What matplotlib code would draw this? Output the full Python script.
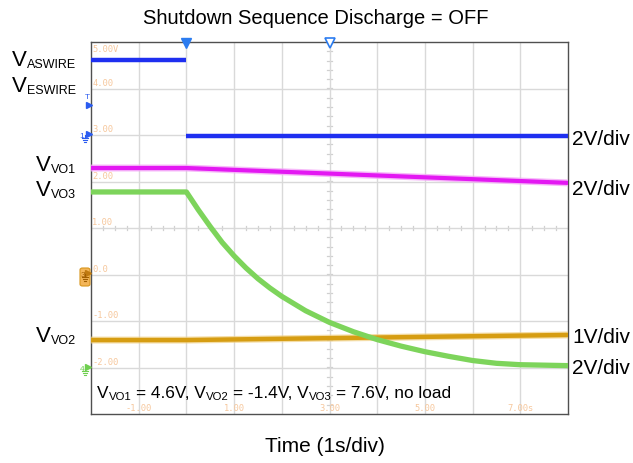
import matplotlib
matplotlib.use('Agg')
import matplotlib.pyplot as plt
from matplotlib.lines import Line2D
from matplotlib.patches import FancyBboxPatch
import numpy as np

plt.rcParams['font.family'] = ['Liberation Sans', 'DejaVu Sans']

# ---- data (time in s, vertical position in screen divisions as labelled on the grid) ----
t_aswire_high = [-2.0, 0.0]
v_aswire_high = [4.61, 4.61]
t_aswire_low = [0.0, 8.0]
v_aswire_low = [2.97, 2.97]

t_vo1 = [-2.0, 0.0, 8.0]
v_vo1 = [2.29, 2.29, 1.97]

t_vo2 = [-2.0, 0.0, 8.0]
v_vo2 = [-1.41, -1.41, -1.30]

t_vo3 = [-2.0, 0.0, 0.25, 0.5, 0.75, 1.0, 1.25, 1.5, 1.75, 2.0, 2.5, 3.0, 3.5, 4.0, 4.5,
         5.0, 5.5, 6.0, 6.5, 7.0, 7.5, 8.0]
v_vo3 = [1.775, 1.775, 1.39, 1.03, 0.69, 0.40, 0.14, -0.09, -0.29, -0.47, -0.78, -1.03,
         -1.23, -1.40, -1.54, -1.66, -1.76, -1.85, -1.91, -1.94, -1.95, -1.96]

y_grid_labels = ["5.00V", "4.00", "3.00", "2.00", "1.00", "0.0", "-1.00", "-2.00"]
y_grid_values = [5, 4, 3, 2, 1, 0, -1, -2]
x_grid_labels = ["-1.00", "1.00", "3.00", "5.00", "7.00s"]
x_grid_values = [-1, 1, 3, 5, 7]

W, H = 633, 464
fig = plt.figure(figsize=(W / 100, H / 100), dpi=100)
ax = fig.add_axes([91 / W, 1 - 415 / H, 477 / W, 372 / H])
ax.set_xlim(-2, 8)
ax.set_ylim(-3, 5)
ax.set_xticks(range(-1, 8))
ax.set_yticks(range(-2, 5))
ax.grid(color='#d9d9d9', lw=1.0)
ax.tick_params(length=0, labelbottom=False, labelleft=False)
for s in ax.spines.values():
    s.set_color('#505050')
    s.set_linewidth(1.0)

# centre crosshair minor ticks
for x in np.arange(-2, 8.001, 0.25):
    ax.plot([x, x], [1 - 0.045, 1 + 0.045], color='#d0d0d0', lw=0.9, zorder=1)
for y in np.arange(-3, 5.001, 0.2):
    ax.plot([3 - 0.045, 3 + 0.045], [y, y], color='#d0d0d0', lw=0.9, zorder=1)

# grid labels (scope readouts)
lab_col = '#f6c79c'
for lbl, yv in zip(y_grid_labels, y_grid_values):
    if yv == 5:
        ax.text(-1.97, yv - 0.04, lbl, color=lab_col, fontsize=6.3, family='DejaVu Sans Mono',
                ha='left', va='top')
    else:
        ax.text(-1.97, yv + 0.04, lbl, color=lab_col, fontsize=6.3, family='DejaVu Sans Mono',
                ha='left', va='bottom')
for lbl, xv in zip(x_grid_labels, x_grid_values):
    ax.text(xv, -2.96, lbl, color=lab_col, fontsize=6.3, family='DejaVu Sans Mono',
            ha='center', va='bottom')

# traces
ax.plot(t_vo2, v_vo2, color='#f0cf80', lw=5.0, solid_capstyle='butt', zorder=3, alpha=0.7)
ax.plot(t_vo2, v_vo2, color='#d69d12', lw=3.2, solid_capstyle='butt', zorder=3)
ax.plot(t_vo3, v_vo3, color='#7dd45b', lw=3.8, solid_capstyle='butt', zorder=4)
ax.plot(t_vo1, v_vo1, color='#f4a6f8', lw=5.0, solid_capstyle='butt', zorder=4, alpha=0.8)
ax.plot(t_vo1, v_vo1, color='#e318f2', lw=3.0, solid_capstyle='butt', zorder=4)
ax.plot(t_aswire_high, v_aswire_high, color='#1e2ff0', lw=3.2, solid_capstyle='butt', zorder=5)
ax.plot(t_aswire_low, v_aswire_low, color='#1e2ff0', lw=3.2, solid_capstyle='butt', zorder=5)

# top markers (trigger position and centre)
ax.plot([0], [4.97], marker='v', ms=7, color='#2b7cf0', clip_on=False, zorder=6)
ax.plot([3], [4.97], marker='v', ms=7, mfc='white', mec='#2b7cf0', mew=1.2, clip_on=False, zorder=6)


def fx(px):
    return px / W


def fy(py):
    return 1 - py / H


def fig_line(xs, ys, **kw):
    fig.add_artist(Line2D([fx(v) for v in xs], [fy(v) for v in ys], transform=fig.transFigure, **kw))


def ground(xc, ytop, color):
    fig_line([xc, xc], [ytop, ytop + 3], color=color, lw=0.8)
    fig_line([xc - 3, xc + 3], [ytop + 3, ytop + 3], color=color, lw=0.8)
    fig_line([xc - 2, xc + 2], [ytop + 5, ytop + 5], color=color, lw=0.8)
    fig_line([xc - 1, xc + 1], [ytop + 7, ytop + 7], color=color, lw=0.8)


def arrow(xc, yc, color):
    fig_line([xc], [yc], marker='>', ms=4, color=color, ls='none')


# left-edge channel markers
blue_m = '#2b5cf0'
fig.text(fx(87), fy(99), 'T', color=blue_m, fontsize=6, ha='center', va='baseline')
arrow(89, 106, blue_m)
fig.text(fx(82), fy(138), '1', color=blue_m, fontsize=6, ha='center', va='baseline')
arrow(89, 135, blue_m)
ground(85, 136, blue_m)

fig.add_artist(FancyBboxPatch((fx(80), fy(287)), 10 / W, 18 / H,
                              boxstyle='round,pad=0.0,rounding_size=0.004', transform=fig.transFigure,
                              fc='#f3b559', ec='#d8951c', lw=0.8))
fig.text(fx(83), fy(277), '3', color='#a05e00', fontsize=6, ha='center', va='baseline')
arrow(88, 274, '#c07a10')
ground(85, 275, '#a05e00')

green_m = '#6fcf4f'
fig.text(fx(82), fy(371), '4', color=green_m, fontsize=6, ha='center', va='baseline')
arrow(88, 368, green_m)
ground(85, 369, green_m)

# rich (mixed-size) text helper
renderer = fig.canvas.get_renderer()


def rich(x, y, pieces, ha='left'):
    widths = []
    for txt, size, dy, gap in pieces:
        t = fig.text(0, 0, txt, fontsize=size)
        widths.append(t.get_window_extent(renderer).width)
        t.remove()
    total = sum(widths) + sum(p[3] for p in pieces)
    cur = x - total if ha == 'right' else x
    for (txt, size, dy, gap), w in zip(pieces, widths):
        cur += gap
        fig.text(fx(cur), fy(y + dy), txt, fontsize=size, ha='left', va='baseline')
        cur += w


# labels
fig.text(fx(316), fy(18), 'Shutdown Sequence Discharge = OFF', fontsize=14.5, ha='center', va='center')
fig.text(fx(325), fy(447), 'Time (1s/div)', fontsize=15, ha='center', va='center')

left_labels = [('ASWIRE', 66), ('ESWIRE', 92), ('VO1', 171), ('VO3', 196), ('VO2', 342)]
for sub, py in left_labels:
    rich(76, py, [('V', 16, 0, 0), (sub, 9, 2, 0)], ha='right')

right_labels = [('2V/div', 145), ('2V/div', 195), ('1V/div', 343), ('2V/div', 374)]
for txt, py in right_labels:
    fig.text(fx(572), fy(py), txt, fontsize=15, ha='left', va='baseline')

ms_, ss_ = 12.4, 8.2
sp = 0.278 * ms_ * 100 / 72
rich(97, 398, [('V', ms_, 0, 0), ('VO1', ss_, 1.5, 0), ('= 4.6V, V', ms_, 0, sp),
               ('VO2', ss_, 1.5, 0), ('= -1.4V, V', ms_, 0, sp), ('VO3', ss_, 1.5, 0),
               ('= 7.6V, no load', ms_, 0, sp)])

fig.savefig('out.png', dpi=100)
